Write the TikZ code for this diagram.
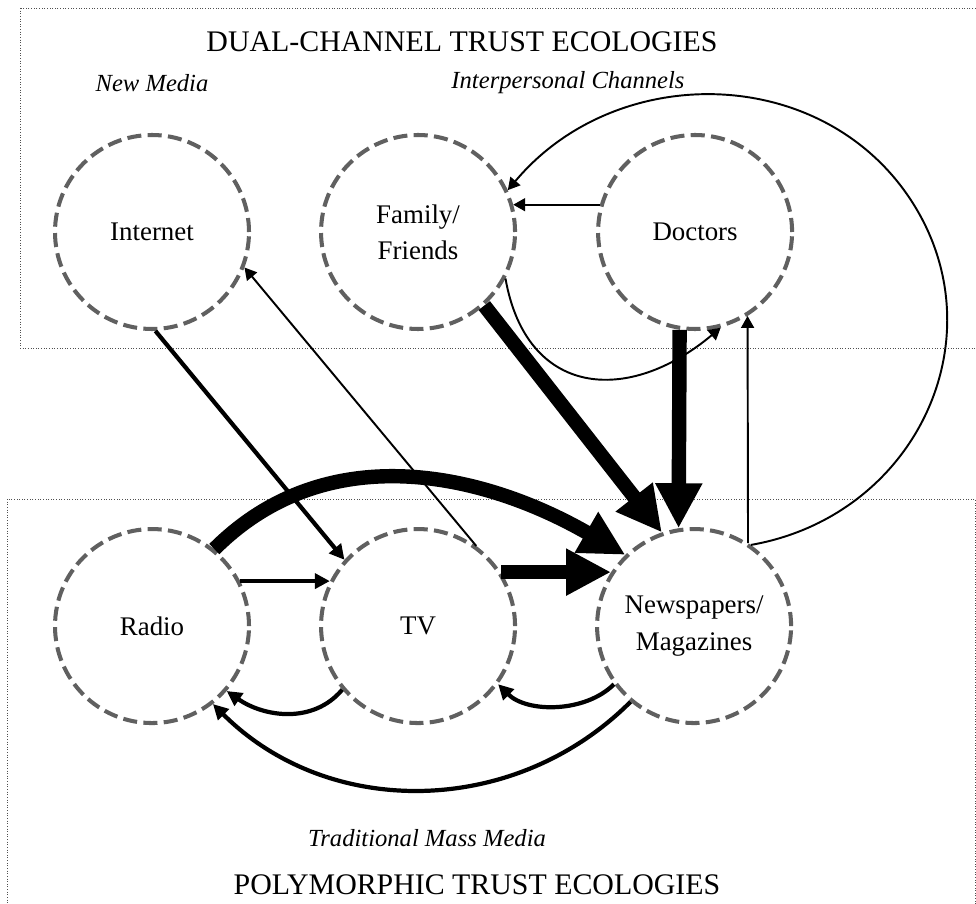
\documentclass[tikz,border=0pt]{standalone}
\usepackage{fontspec}
\setmainfont{Liberation Serif}
\usepackage{tikz}
\usetikzlibrary{arrows.meta, positioning}
\definecolor{RingGray}{RGB}{96, 96, 96}
\definecolor{BoxGray}{RGB}{80, 80, 80}
\tikzset{
  chan/.style={circle, minimum size=3.88cm, inner sep=0pt, draw=RingGray,
    line width=2.3pt, dash pattern=on 8pt off 3.6pt, align=center,
    font=\fontsize{15.3}{20.5}\selectfont},
  ecolbox/.style={draw=BoxGray, line width=0.5pt, densely dotted},
  ecol/.style={font=\fontsize{17}{20}\selectfont},
  grp/.style={font=\fontsize{14}{17}\selectfont\itshape},
  thinarr/.style={-{Triangle[length=0.24cm, width=0.26cm]}, line width=1.1pt},
  medarr/.style={-{Triangle[length=0.30cm, width=0.30cm]}, line width=2.4pt},
  fatarr/.style={-{Triangle[length=0.9cm, width=0.88cm]}, line width=8.2pt},
}

\begin{document}
\begin{tikzpicture}[node distance=1.36cm]
  \useasboundingbox (0,0) rectangle (19.52,18.06);
  \draw[ecolbox] (0.40,17.90) rectangle (20,11.10);
  \draw[ecolbox] (0.14,8.08) rectangle (19.50,-0.5);
  \node[ecol] (dualt) at (9.24,17.22) {DUAL-CHANNEL TRUST ECOLOGIES};
  \node[ecol] (polyt) at (9.54,0.36) {POLYMORPHIC TRUST ECOLOGIES};
  \node[chan] (internet) at (3.04,13.42) {Internet};
  \node[chan, right=1.36cm of internet] (family) {Family/\\Friends};
  \node[chan, right=1.58cm of family] (doctors) {Doctors};
  \node[chan, below=3.92cm of internet] (radio) {Radio};
  \node[chan, right=1.36cm of radio] (tv) {TV};
  \node[chan, right=1.56cm of tv] (news) {Newspapers/\\Magazines};
  \node[grp] (newm) at (3.04,16.40) {New Media};
  \node[grp] (interp) at (11.36,16.40) {Interpersonal Channels};
  \node[grp] (tradm) at (8.54,1.30) {Traditional Mass Media};
  % upper ecology
  \draw[thinarr] (doctors.164) -- (family.16);
  \draw[thinarr] (family.-28) to[out=-80, in=-140, looseness=1.4] (doctors.-75);
  \draw[thinarr] (news.55) .. controls (18.33,7.74) and (20.01,11.34) .. (18.21,14.07)
    .. controls (16.42,16.79) and (12.32,16.84) .. (family.25);
  \draw[thinarr] (news.57) -- (doctors.-58);
  \draw[fatarr] (doctors.-99) -- (news.99);
  \draw[fatarr] (family.-48) -- (news.109);
  \draw[medarr] (internet.-88) -- (tv.138);
  \draw[thinarr] (tv.54) -- (internet.-21);
  % lower ecology
  \draw[fatarr] (radio.51) to[out=45, in=150] (news.134);
  \draw[medarr] (radio.27) -- (tv.153);
  \draw[fatarr] (tv.33) -- (news.147);
  \draw[medarr] (tv.-140) to[out=-130, in=-35] (radio.-41);
  \draw[medarr] (news.-144) to[out=-135, in=-45, looseness=0.9] (tv.-36);
  \draw[medarr] (news.-130) to[out=-135, in=-45] (radio.-52);
\end{tikzpicture}
\end{document}
